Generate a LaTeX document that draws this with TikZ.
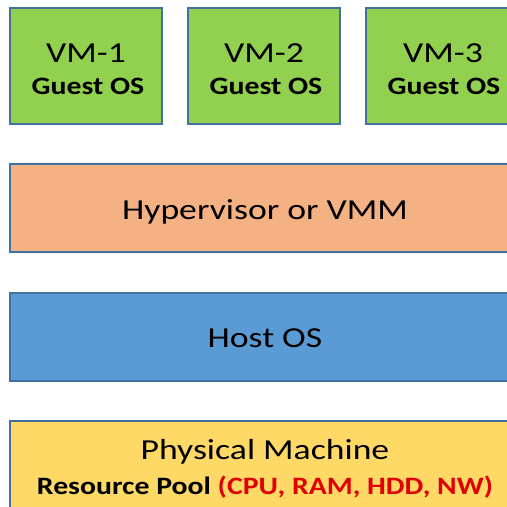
\documentclass[tikz,border=0pt]{standalone}
\usepackage{fontspec}
\setmainfont{Carlito}
\definecolor{vmgreen}{HTML}{92D050}
\definecolor{hvorange}{HTML}{F4B183}
\definecolor{hostblue}{HTML}{5B9BD5}
\definecolor{phyellow}{HTML}{FFD966}
\definecolor{edgeblue}{HTML}{41719C}
\definecolor{redtxt}{HTML}{E00000}
\newcommand{\wideR}[1]{\scalebox{1.23}[1]{#1}}
\newcommand{\wideB}[1]{\scalebox{1.19}[1]{#1}}
\begin{document}
\begin{tikzpicture}[x=1pt,y=-1pt,
  layerbox/.style={draw=edgeblue,line width=1.5pt},
  regtxt/.style={font=\fontsize{29}{34}\selectfont,anchor=base,inner sep=0pt},
  boldtxt/.style={font=\fontsize{25}{30}\selectfont\bfseries,anchor=base,inner sep=0pt}]
\useasboundingbox (0,0) rectangle (507,507);
\clip (0,0) rectangle (507,507);
\fill[white] (0,0) rectangle (507,507);
% VMs
\draw[layerbox,fill=vmgreen] (10,8) rectangle (162,124);
\draw[layerbox,fill=vmgreen] (188,8) rectangle (340,124);
\draw[layerbox,fill=vmgreen] (366,8) rectangle (520,124);
\node[regtxt] (vm1) at (86,62) {\wideR{VM-1}};
\node[boldtxt] (g1) at (88,94) {\wideB{Guest OS}};
\node[regtxt] (vm2) at (264,62) {\wideR{VM-2}};
\node[boldtxt] (g2) at (266,94) {\wideB{Guest OS}};
\node[regtxt] (vm3) at (443,62) {\wideR{VM-3}};
\node[boldtxt] (g3) at (444,94) {\wideB{Guest OS}};
% Hypervisor
\draw[layerbox,fill=hvorange] (10,164) rectangle (530,252);
\node[regtxt] (hv) at (265,219) {\wideR{Hypervisor or VMM}};
% Host OS
\draw[layerbox,fill=hostblue] (10,293) rectangle (530,381);
\node[regtxt] (host) at (265,347) {\wideR{Host OS}};
% Physical
\draw[layerbox,fill=phyellow] (10,421) rectangle (530,560);
\node[regtxt] (pm) at (265,459) {\wideR{Physical Machine}};
\node[boldtxt] (rp) at (265,494) {\wideB{Resource Pool \textcolor{redtxt}{(CPU, RAM, HDD, NW)}}};
\end{tikzpicture}
\end{document}
